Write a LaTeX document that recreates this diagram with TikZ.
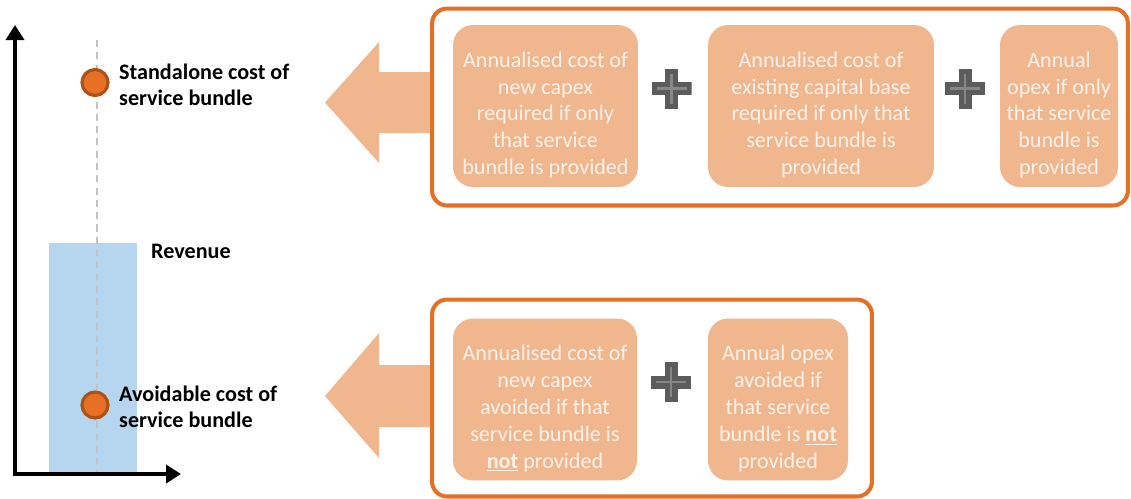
\documentclass[tikz,border=0pt]{standalone}
\usepackage{fontspec}
\setmainfont{Carlito}
\usepackage{tikz}
\usetikzlibrary{arrows.meta, positioning, calc}
\definecolor{framecolor}{RGB}{228, 112, 38}
\definecolor{boxcolor}{RGB}{240, 182, 142}
\definecolor{boxtext}{RGB}{252, 242, 234}
\definecolor{dotfill}{RGB}{232, 112, 36}
\definecolor{dotborder}{RGB}{172, 82, 22}
\definecolor{revcolor}{RGB}{181, 214, 238}
\definecolor{plusgray}{RGB}{92, 92, 92}
\definecolor{pluslight}{RGB}{135, 135, 135}
\definecolor{guidegray}{RGB}{195, 195, 195}

\begin{document}
\begin{tikzpicture}[x=0.02cm, y=-0.02cm,
    container/.style={draw=framecolor, line width=2.3pt, rounded corners=0.3cm, minimum height=3.94cm},
    costbox/.style={fill=boxcolor, rounded corners=0.4cm, minimum height=3.24cm, inner sep=0pt},
    boxtext/.style={align=center, inner sep=0pt, text=boxtext, font=\fontsize{12.6}{15.3}\selectfont},
    plussign/.style={minimum size=0.8cm, inner sep=0pt, path picture={
        \fill[plusgray] ([shift={(-0.4cm,-0.13cm)}]path picture bounding box.center) rectangle ([shift={(0.4cm,0.13cm)}]path picture bounding box.center);
        \fill[plusgray] ([shift={(-0.13cm,-0.4cm)}]path picture bounding box.center) rectangle ([shift={(0.13cm,0.4cm)}]path picture bounding box.center);
        \draw[pluslight, line width=1.2pt] ([xshift=-0.3cm]path picture bounding box.center) -- ([xshift=0.3cm]path picture bounding box.center);
        \draw[pluslight, line width=1.2pt] ([yshift=-0.3cm]path picture bounding box.center) -- ([yshift=0.3cm]path picture bounding box.center);
    }},
    costdot/.style={circle, fill=dotfill, draw=dotborder, line width=1.8pt, minimum size=0.52cm, inner sep=0pt},
    axislabel/.style={anchor=west, align=left, font=\fontsize{12.6}{14.8}\selectfont\bfseries},
    bigarrow/.style={fill=boxcolor},
    axisline/.style={line width=2.8pt, -{Triangle[length=0.3cm, width=0.36cm]}}]
    \useasboundingbox (0,0) rectangle (1131,498);

    % Revenue bar and guide line
    \node[fill=revcolor, minimum width=1.76cm, minimum height=4.62cm, inner sep=0pt] (revbar) at (93,358.5) {};
    \coordinate (guidetop) at (97,40);
    \coordinate (guidebot) at (97,474);
    \draw[guidegray, line width=0.8pt, dash pattern=on 4pt off 3pt] (guidetop) -- (guidebot);

    % Axes
    \coordinate (origin) at (15,474);
    \coordinate (ytip) at (15,25);
    \coordinate (xtip) at (181,474);
    \draw[axisline] ([yshift=-1.4pt]origin) -- (ytip);
    \draw[axisline] ([xshift=-1.4pt]origin) -- (xtip);

    % Cost points
    \node[costdot] (standalone) at (95,82.5) {};
    \node[costdot] (avoidable) at (95,405) {};
    \node[axislabel] (standlabel) at (113,85) {Standalone cost of\\service bundle};
    \node[axislabel] (avoidlabel) at (113,407) {Avoidable cost of\\service bundle};
    \node[axislabel] (revlabel) at (145,251) {Revenue};

    % Block arrows
    \fill[bigarrow] (434,72) -- (379,72) -- (379,42) -- (325,102.5) -- (379,163) -- (379,133) -- (434,133) -- cycle;
    \fill[bigarrow] (434,365) -- (379,365) -- (379,333) -- (325,396) -- (379,458) -- (379,427) -- (434,427) -- cycle;

    % Standalone cost container
    \node[container, fill=white, minimum width=13.92cm] (ctop) at (780,107) {};
    \node[costbox, minimum width=3.7cm] (newcapex) at (545.5,106) {};
    \node[boxtext] at ([yshift=-0.18cm]newcapex.center) {Annualised cost of\\new capex\\required if only\\that service\\bundle is provided};
    \node[plussign] (plusone) at (671.5,88.5) {};
    \node[costbox, minimum width=4.52cm] (capbase) at (821,106) {};
    \node[boxtext] at ([yshift=-0.18cm]capbase.center) {Annualised cost of\\existing capital base\\required if only that\\service bundle is\\provided};
    \node[plussign] (plustwo) at (965,88.5) {};
    \node[costbox, minimum width=2.36cm] (opexonly) at (1059,106) {};
    \node[boxtext] at ([yshift=-0.18cm]opexonly.center) {Annual\\opex if only\\that service\\bundle is\\provided};

    % Avoidable cost container
    \node[container, fill=white, minimum width=8.8cm] (cbot) at (652,398) {};
    \node[costbox, minimum width=3.68cm] (capexavoid) at (545,399.5) {};
    \node[boxtext] at ([yshift=-0.18cm]capexavoid.center) {Annualised cost of\\new capex\\avoided if that\\service bundle is\\\underline{\textbf{not}} provided};
    \node[plussign] (plusthree) at (671,382) {};
    \node[costbox, minimum width=2.8cm] (opexavoid) at (778,399.5) {};
    \node[boxtext] at ([yshift=-0.18cm]opexavoid.center) {Annual opex\\avoided if\\that service\\bundle is \underline{\textbf{not}}\\provided};
\end{tikzpicture}
\end{document}
